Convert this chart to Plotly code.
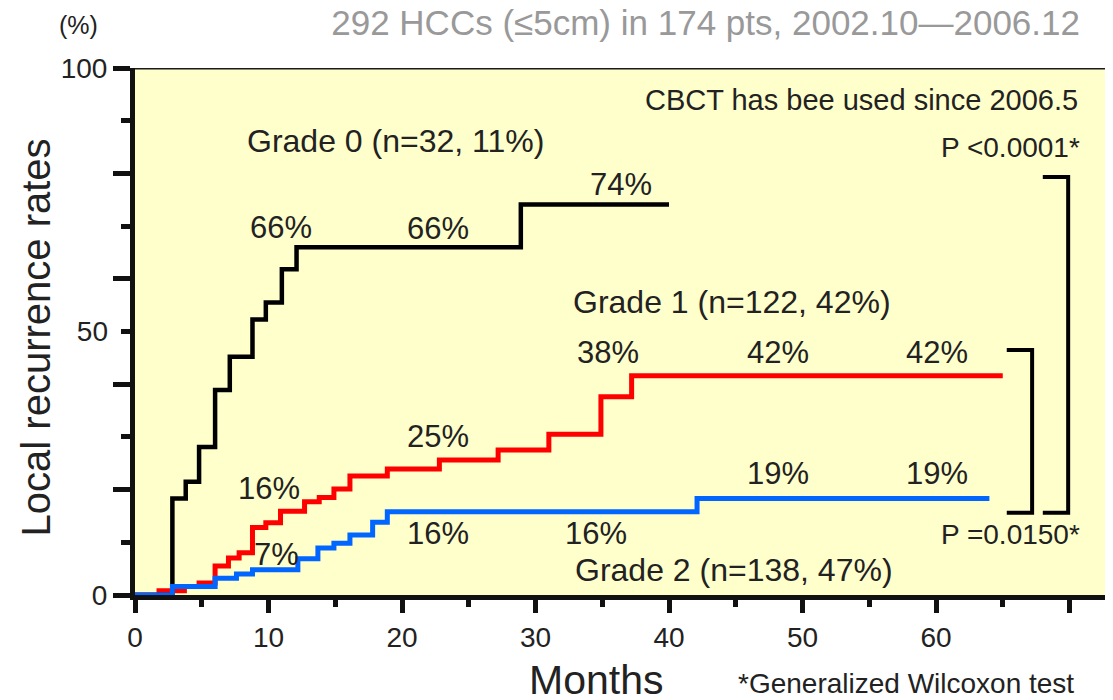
import plotly.graph_objects as go

# ---- data (months, cumulative local recurrence %) ----
g0_months = [0, 2.8, 3.8, 4.8, 6.0, 7.1, 8.8, 9.8, 11.0, 12.1, 28.9, 40.0]
g0_rates = [0, 18.3, 21.5, 28.1, 38.9, 45.2, 52.3, 55.5, 61.8, 66.0, 74.1, 74.1]

g1_months = [0, 1.8, 3.7, 4.8, 6.0, 7.0, 7.8, 8.8, 9.8, 10.9, 12.7, 13.8, 14.9, 16.1,
             18.9, 22.8, 27.2, 31.0, 34.9, 37.2, 65.0]
g1_rates = [0, 0.8, 1.6, 2.3, 5.5, 7.0, 8.0, 12.8, 13.7, 15.9, 17.7, 18.5, 20.1, 22.6,
            23.9, 25.6, 27.5, 30.5, 37.6, 41.6, 41.6]

g2_months = [0, 2.8, 6.0, 7.6, 8.8, 12.2, 13.7, 14.9, 16.1, 17.8, 18.9, 42.1, 64.0]
g2_rates = [0, 1.6, 3.2, 4.0, 4.8, 6.9, 8.9, 9.8, 11.4, 13.8, 15.8, 18.3, 18.3]

x_major = [0, 10, 20, 30, 40, 50, 60, 70]
x_major_text = ["0", "10", "20", "30", "40", "50", "60", ""]
x_minor = [5, 15, 25, 35, 45, 55, 65]
y_major = [0, 20, 40, 60, 80, 100]
y_major_text = ["0", "", "", "", "", "100"]
y_minor = [10, 30, 50, 70, 90]

# value labels: (x month, y %, text)
value_labels = [
    (10.9, 69.8, "66%"), (22.7, 69.6, "66%"), (36.4, 77.8, "74%"),
    (35.4, 46.1, "38%"), (48.2, 46.1, "42%"), (60.1, 46.1, "42%"),
    (22.7, 30.0, "25%"), (10.0, 20.3, "16%"), (10.6, 7.6, "7%"),
    (22.7, 11.6, "16%"), (34.5, 11.6, "16%"),
    (48.2, 23.0, "19%"), (60.1, 23.0, "19%"),
]
group_labels = [
    (19.5, 86.1, "Grade 0 (n=32, 11%)"),
    (44.7, 55.6, "Grade 1 (n=122, 42%)"),
    (44.9, 4.7, "Grade 2 (n=138, 47%)"),
]

FONT = "Arial, Liberation Sans, Helvetica, sans-serif"
TXT = "#222222"

fig = go.Figure()
fig.add_trace(go.Scatter(x=g2_months, y=g2_rates, mode="lines", line_shape="hv",
                         line=dict(color="#0066FF", width=5), name="Grade 2", yaxis="y2"))
fig.add_trace(go.Scatter(x=g1_months, y=g1_rates, mode="lines", line_shape="hv",
                         line=dict(color="#FF0000", width=5), name="Grade 1"))
fig.add_trace(go.Scatter(x=g0_months, y=g0_rates, mode="lines", line_shape="hv",
                         line=dict(color="#000000", width=4.5), name="Grade 0"))


def A(x, y, t, size, ref="data", **kw):
    d = dict(x=x, y=y, text=t, showarrow=False, xanchor="center", yanchor="middle",
             font=dict(size=size, color=TXT, family=FONT))
    if ref == "data":
        d.update(xref="x", yref="y")
    else:
        d.update(xref="paper", yref="paper")
    d.update(kw)
    return d


ann = [A(x, y, t, 31) for x, y, t in value_labels]
ann += [A(x, y, t, 32) for x, y, t in group_labels]
ann += [
    A(54.4, 93.9, "CBCT has bee used since 2006.5", 29),
    A(65.6, 85.0, "P &lt;0.0001*", 28),
    A(65.6, 11.4, "P =0.0150*", 28),
    A(-0.0573, 1.0816, "(%)", 25, ref="paper"),
    A(-0.1008, 0.4896, "Local recurrence rates", 40, ref="paper", textangle=-90),
    A(0.471, -0.162, "Months", 41, ref="paper"),
    A(0.788, -0.167, "*Generalized Wilcoxon test", 28, ref="paper"),
]

shapes = [
    dict(type="line", xref="paper", yref="y", x0=0, x1=1, y0=100, y1=100,
         line=dict(color="#1a1a1a", width=3)),
    dict(type="path", xref="x", yref="y", path="M 65.3,46.5 L 67.2,46.5 L 67.2,15.6 L 65.3,15.6",
         line=dict(color="#000000", width=4)),
    dict(type="path", xref="x", yref="y", path="M 68.0,79.3 L 69.9,79.3 L 69.9,15.6 L 68.0,15.6",
         line=dict(color="#000000", width=4)),
]

W, H = 1105, 692  # page body has an 8px margin
fig.update_layout(
    width=W, height=H,
    margin=dict(l=127, r=0, t=60, b=105),
    paper_bgcolor="white", plot_bgcolor="#FFFFCC",
    showlegend=False,
    title=dict(text="292 HCCs (≤5cm) in 174 pts, 2002.10—2006.12", xref="container",
               yref="container", x=1072 / W, xanchor="right", y=1 - 15 / H, yanchor="middle",
               font=dict(size=35, color="#999999", family=FONT)),
    annotations=ann, shapes=shapes,
    xaxis=dict(range=[0, 978 / 13.35], showgrid=False, zeroline=False,
               showline=True, linecolor="#111111", linewidth=5,
               tickmode="array", tickvals=x_major, ticktext=x_major_text,
               ticks="outside", ticklen=13, tickwidth=5, tickcolor="#111111",
               tickfont=dict(size=28, color=TXT, family=FONT),
               minor=dict(tickvals=x_minor, ticks="outside", ticklen=7, tickwidth=5,
                          tickcolor="#111111", showgrid=False)),
    yaxis=dict(range=[0, 100], showgrid=False, zeroline=False,
               showline=True, linecolor="#111111", linewidth=5,
               tickmode="array", tickvals=y_major, ticktext=y_major_text,
               ticks="outside", ticklen=17, tickwidth=5, tickcolor="#111111",
               tickfont=dict(size=28, color=TXT, family=FONT),
               minor=dict(tickvals=y_minor, ticks="outside", ticklen=9, tickwidth=5,
                          tickcolor="#111111", showgrid=False)),
    yaxis2=dict(range=[0, 100], overlaying="y", side="left", anchor="x",
                showgrid=False, zeroline=False, showline=False,
                tickmode="array", tickvals=[50], ticktext=["50"], ticks="",
                ticklabelstandoff=26,
                tickfont=dict(size=28, color=TXT, family=FONT)),
)

fig.write_html("out.html")
